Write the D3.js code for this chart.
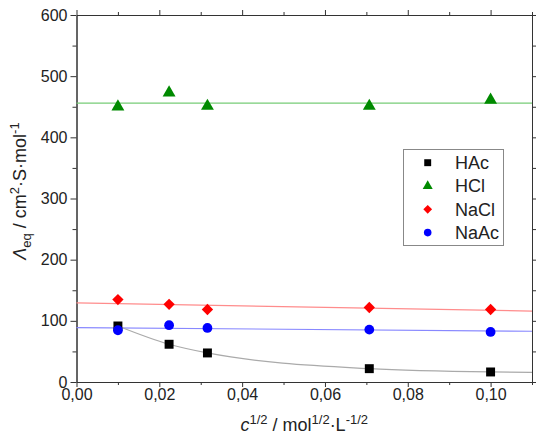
<!DOCTYPE html>
<html>
<head>
<meta charset="utf-8">
<script src="https://cdn.jsdelivr.net/npm/d3@7"></script>
<style>
  body { margin: 0; background: #fff; }
  svg { display: block; font-family: "Liberation Sans", Arial, sans-serif; }
  .axis path, .axis line { stroke: #333; }
  .axis text { fill: #222; font-size: 16px; }
</style>
</head>
<body>
<svg width="536" height="441"></svg>
<script>
// measured points, x = c^(1/2)
var xValues = [0.01, 0.02236, 0.03162, 0.07071, 0.1];
var hacValues = [91.6, 61.7, 47.5, 21.8, 16.4];
var hclValues = [450, 473, 451, 451, 461];
var naclValues = [134.8, 127, 118.5, 121.8, 118.5];
var naacValues = [84.6, 92.8, 88.4, 85.7, 81.8];

// fitted lines
var fitX = [0, 0.11];
var hclFit = [456, 456];
var naclFit = [129.3, 116];
var naacFit = [89, 83];
var hacFitX = [0.01, 0.02236, 0.03162, 0.07071, 0.1, 0.11];
var hacFitY = [91.6, 61.7, 47.5, 21.8, 16.4, 15.8];

var xMajor = [0, 0.02, 0.04, 0.06, 0.08, 0.10];
var xMinor = [0.01, 0.03, 0.05, 0.07, 0.09, 0.11];
var yMajor = [0, 100, 200, 300, 400, 500, 600];
var yMinor = [50, 150, 250, 350, 450, 550];

var seriesNames = ['HAc', 'HCl', 'NaCl', 'NaAc'];

var margin = { top: 15, right: 4, bottom: 59, left: 76.5 };
var width = 536 - margin.left - margin.right;
var height = 441 - margin.top - margin.bottom;

var svg = d3.select('svg');
var g = svg.append('g')
    .attr('transform', 'translate(' + margin.left + ',' + margin.top + ')');

var xScale = d3.scaleLinear().domain([0, 0.11]).range([0, width]);
var yScale = d3.scaleLinear().domain([0, 600]).range([height, 0]);

function fmtX(d) {
    return d3.format('.2f')(d).replace('.', ',');
}

// axes: major + minor on every side
g.append('g').attr('class', 'axis')
    .attr('transform', 'translate(0,' + height + ')')
    .call(d3.axisBottom(xScale).tickValues(xMajor).tickFormat(fmtX).tickSize(5).tickPadding(1.5).tickSizeOuter(0));
g.append('g').attr('class', 'axis')
    .attr('transform', 'translate(0,' + height + ')')
    .call(d3.axisBottom(xScale).tickValues(xMinor).tickFormat('').tickSize(3).tickSizeOuter(0));
g.append('g').attr('class', 'axis')
    .call(d3.axisTop(xScale).tickValues(xMajor).tickFormat('').tickSize(5).tickSizeOuter(0));
g.append('g').attr('class', 'axis')
    .call(d3.axisTop(xScale).tickValues(xMinor).tickFormat('').tickSize(3).tickSizeOuter(0));

g.append('g').attr('class', 'axis')
    .call(d3.axisLeft(yScale).tickValues(yMajor).tickSize(6).tickPadding(3).tickSizeOuter(0));
g.append('g').attr('class', 'axis')
    .call(d3.axisLeft(yScale).tickValues(yMinor).tickFormat('').tickSize(4).tickSizeOuter(0));
g.append('g').attr('class', 'axis')
    .attr('transform', 'translate(' + width + ',0)')
    .call(d3.axisRight(yScale).tickValues(yMajor).tickFormat('').tickSize(6).tickSizeOuter(0));
g.append('g').attr('class', 'axis')
    .attr('transform', 'translate(' + width + ',0)')
    .call(d3.axisRight(yScale).tickValues(yMinor).tickFormat('').tickSize(4).tickSizeOuter(0));

// fit lines
var line = d3.line()
    .x(function (d) { return xScale(d[0]); })
    .y(function (d) { return yScale(d[1]); });

function drawFit(xs, ys, color) {
    g.append('path')
        .datum(d3.zip(xs, ys))
        .attr('fill', 'none')
        .attr('stroke', color)
        .attr('stroke-width', 1.2)
        .attr('d', line);
}
drawFit(fitX, hclFit, '#77cc77');
drawFit(fitX, naclFit, '#ff8c8c');
drawFit(fitX, naacFit, '#8888ff');
g.append('path')
    .datum(d3.zip(hacFitX, hacFitY))
    .attr('fill', 'none')
    .attr('stroke', '#aaaaaa')
    .attr('stroke-width', 1.2)
    .attr('d', line.curve(d3.curveMonotoneX));

// square diamond (rotated square), d3's own diamond is too narrow
var squareDiamond = {
    draw: function (context, size) {
        var r = Math.sqrt(size / 2);
        context.moveTo(0, -r);
        context.lineTo(r, 0);
        context.lineTo(0, r);
        context.lineTo(-r, 0);
        context.closePath();
    }
};

// markers
var symbols = {
    HAc: { type: d3.symbolSquare, size: 80, color: '#000000', values: hacValues },
    HCl: { type: d3.symbolTriangle, size: 72, color: '#008a00', values: hclValues },
    NaCl: { type: squareDiamond, size: 64, color: '#ff0000', values: naclValues },
    NaAc: { type: d3.symbolCircle, size: 75, color: '#0000ff', values: naacValues }
};

['NaCl', 'HCl', 'HAc', 'NaAc'].forEach(function (name) {
    var s = symbols[name];
    g.selectAll('.pt-' + name)
        .data(d3.zip(xValues, s.values))
        .enter().append('path')
        .attr('class', 'pt-' + name)
        .attr('transform', function (d) {
            return 'translate(' + xScale(d[0]) + ',' + yScale(d[1]) + ')';
        })
        .attr('d', d3.symbol().type(s.type).size(s.size))
        .attr('fill', s.color);
});

// legend
var legend = svg.append('g').attr('transform', 'translate(403.5,149.5)');
legend.append('rect')
    .attr('width', 100).attr('height', 96)
    .attr('fill', '#fff').attr('stroke', '#888').attr('stroke-width', 1);
seriesNames.forEach(function (name, i) {
    var s = symbols[name];
    var yy = 13.2 + i * 23.3;
    legend.append('path')
        .attr('transform', 'translate(24.2,' + yy + ')')
        .attr('d', d3.symbol().type(s.type).size(s.size * 0.6))
        .attr('fill', s.color);
    legend.append('text')
        .attr('x', 51.5).attr('y', yy)
        .attr('dy', '0.36em')
        .attr('font-size', 18)
        .attr('fill', '#222')
        .text(name);
});

// axis titles
var xt = svg.append('text')
    .attr('x', margin.left + width / 2)
    .attr('y', 431)
    .attr('text-anchor', 'middle')
    .attr('font-size', 18)
    .attr('fill', '#222');
xt.append('tspan').attr('font-style', 'italic').text('c');
xt.append('tspan').attr('font-size', 13).attr('dy', -7).text('1/2');
xt.append('tspan').attr('dy', 7).text(' / mol');
xt.append('tspan').attr('font-size', 13).attr('dy', -7).text('1/2');
xt.append('tspan').attr('dy', 7).text('·L');
xt.append('tspan').attr('font-size', 13).attr('dy', -7).text('-1/2');

var yt = svg.append('text')
    .attr('transform', 'translate(26,191) rotate(-90)')
    .attr('text-anchor', 'middle')
    .attr('font-size', 18)
    .attr('fill', '#222');
yt.append('tspan').attr('font-style', 'italic').text('Λ');
yt.append('tspan').attr('font-size', 13).attr('dy', 5).text('eq');
yt.append('tspan').attr('dy', -5).text(' / cm');
yt.append('tspan').attr('font-size', 13).attr('dy', -7).text('2');
yt.append('tspan').attr('dy', 7).text('·S·mol');
yt.append('tspan').attr('font-size', 13).attr('dy', -7).text('-1');
</script>
</body>
</html>
